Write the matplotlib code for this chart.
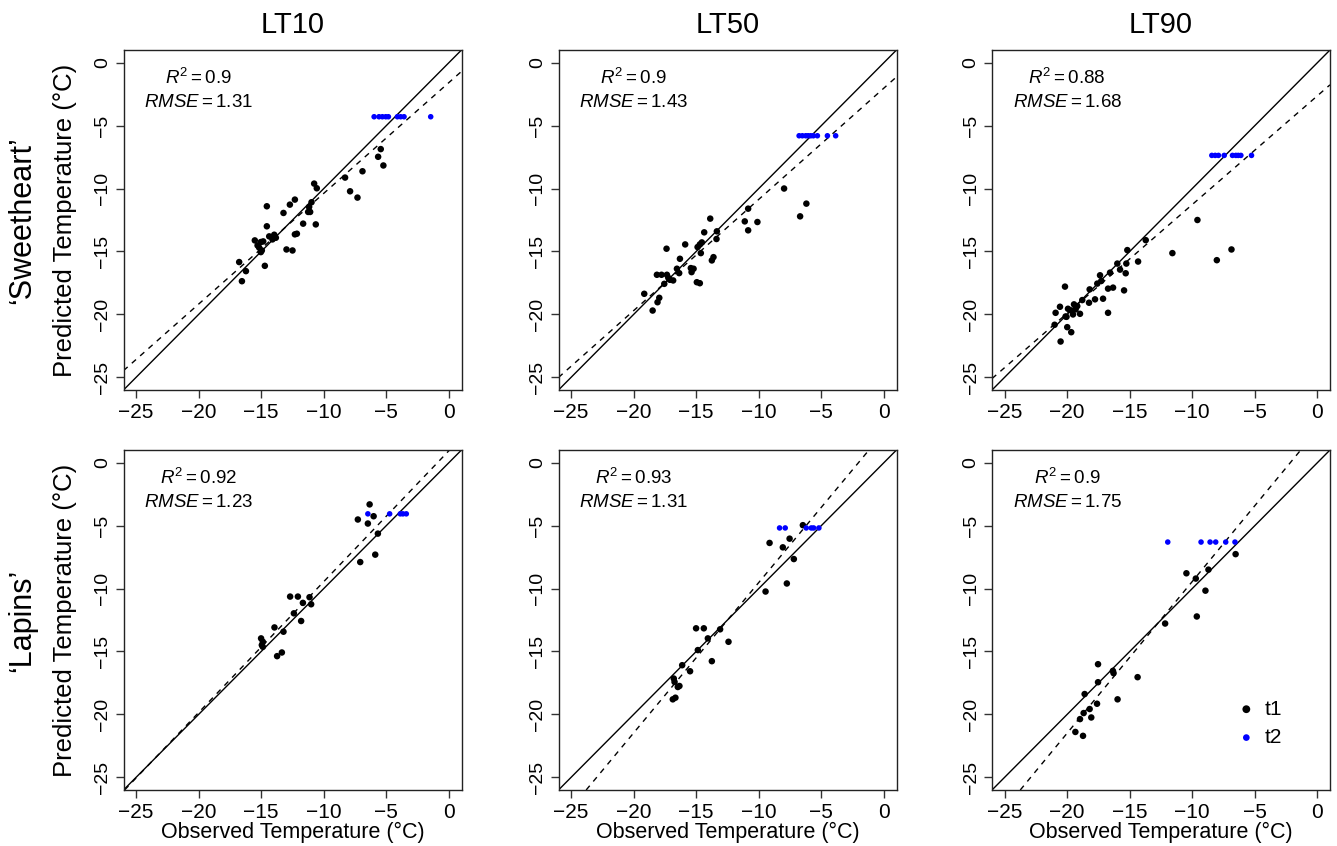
import matplotlib
matplotlib.use('Agg')
import matplotlib.pyplot as plt

plt.rcParams['font.family'] = ['Liberation Sans', 'DejaVu Sans']
plt.rcParams['mathtext.fontset'] = 'custom'
plt.rcParams['mathtext.rm'] = 'Liberation Sans'
plt.rcParams['mathtext.it'] = 'Liberation Sans:italic'

# ---- data (observed x, predicted y) ----
# 'Sweetheart' LT10
sw10_t1_x = [-5.45, -5.66, -5.24, -6.91, -8.30, -7.90, -7.31, -10.77, -10.56, -14.55,
             -12.71, -12.31, -13.22, -10.98, -11.17, -11.25, -11.09, -11.65, -10.64, -14.55,
             -12.15, -12.31, -14.36, -13.96, -13.83, -14.10, -15.51, -15.03, -14.84, -15.29,
             -15.16, -14.95, -15.03, -12.98, -12.50, -16.76, -16.22, -14.71, -16.54]
sw10_t1_y = [-6.87, -7.48, -8.17, -8.63, -9.13, -10.22, -10.72, -9.61, -9.98, -11.41,
             -11.28, -10.88, -11.94, -11.09, -11.46, -11.86, -11.86, -12.79, -12.85, -13.00,
             -13.59, -13.64, -13.80, -13.67, -13.91, -14.04, -14.12, -14.25, -14.20, -14.52,
             -14.70, -14.92, -15.05, -14.84, -14.92, -15.84, -16.56, -16.14, -17.36]
sw10_t2_x = [-5.98, -5.59, -5.32, -5.05, -4.84, -4.12, -3.86, -3.59, -1.46]
sw10_t2_y = [-4.3, -4.3, -4.3, -4.3, -4.3, -4.3, -4.3, -4.3, -4.3]

# 'Sweetheart' LT50
sw50_t1_x = [-7.98, -6.20, -6.70, -10.85, -11.12, -10.11, -10.85, -13.88, -14.36, -13.35,
             -13.38, -14.55, -14.71, -14.89, -14.63, -15.88, -17.37, -13.62, -13.75, -16.30,
             -16.54, -16.36, -15.43, -15.21, -15.37, -18.14, -17.77, -17.34, -17.23, -17.10,
             -16.84, -17.55, -14.95, -14.71, -19.15, -17.95, -18.09, -18.48]
sw50_t1_y = [-10.00, -11.20, -12.21, -11.60, -12.61, -12.66, -13.32, -12.39, -13.48, -13.40,
             -14.01, -14.28, -14.44, -14.65, -15.13, -14.44, -14.78, -15.45, -15.71, -15.58,
             -16.37, -16.72, -16.32, -16.37, -16.64, -16.85, -16.85, -16.85, -17.09, -17.25,
             -17.30, -17.57, -17.44, -17.52, -18.36, -18.68, -19.03, -19.69]
sw50_t2_x = [-6.78, -6.52, -6.25, -6.06, -5.85, -5.64, -5.32, -4.52, -3.86]
sw50_t2_y = [-5.81, -5.81, -5.81, -5.81, -5.81, -5.81, -5.81, -5.81, -5.81]

# 'Sweetheart' LT90
sw90_t1_x = [-9.59, -13.72, -11.59, -6.87, -8.04, -15.19, -14.33, -15.27, -15.99, -15.77,
             -15.32, -16.57, -17.37, -17.27, -17.59, -16.73, -16.33, -15.45, -18.20, -20.17,
             -18.79, -18.25, -17.77, -17.13, -16.73, -19.45, -19.19, -19.32, -19.67, -18.97,
             -19.53, -19.93, -20.12, -20.57, -20.92, -21.00, -19.99, -19.67, -20.52, -20.05]
sw90_t1_y = [-12.50, -14.10, -15.13, -14.84, -15.69, -14.89, -15.80, -15.96, -15.96, -16.44,
             -16.73, -16.68, -16.89, -17.34, -17.55, -17.95, -17.87, -18.09, -18.01, -17.79,
             -18.86, -19.07, -18.80, -18.75, -19.87, -19.20, -19.34, -19.60, -19.68, -19.95,
             -20.00, -19.55, -20.16, -19.39, -19.87, -20.82, -21.01, -21.41, -22.15, -20.19]
sw90_t2_x = [-8.44, -8.17, -7.91, -7.45, -6.79, -6.52, -6.33, -6.12, -5.27]
sw90_t2_y = [-7.37, -7.37, -7.37, -7.37, -7.37, -7.37, -7.37, -7.37, -7.37]

# 'Lapins' LT10
la10_t1_x = [-6.34, -6.02, -7.28, -6.48, -5.68, -5.89, -7.09, -12.69, -12.07, -11.14,
             -11.67, -11.01, -12.39, -11.81, -13.94, -13.22, -15.01, -14.87, -14.95, -14.87,
             -13.35, -13.73]
la10_t1_y = [-3.32, -4.26, -4.52, -4.84, -5.64, -7.31, -7.90, -10.64, -10.64, -10.69,
             -11.14, -11.25, -11.97, -12.58, -13.09, -13.43, -13.96, -14.23, -14.49, -14.63,
             -15.08, -15.37]
la10_t2_x = [-6.48, -4.74, -3.89, -3.68, -3.41]
la10_t2_y = [-4.07, -4.07, -4.07, -4.07, -4.07]

# 'Lapins' LT50
la50_t1_x = [-6.48, -9.14, -7.54, -8.08, -7.20, -7.76, -9.46, -15.01, -14.39, -13.09,
             -14.07, -12.42, -14.87, -13.75, -16.12, -15.49, -16.79, -16.73, -16.47, -16.34,
             -16.66, -16.87]
la50_t1_y = [-4.97, -6.38, -6.04, -6.73, -7.66, -9.60, -10.24, -13.16, -13.16, -13.24,
             -13.96, -14.23, -14.89, -15.77, -16.09, -16.57, -17.15, -17.42, -17.82, -17.74,
             -18.67, -18.80]
la50_t2_x = [-8.34, -7.89, -6.21, -5.81, -5.62, -5.20]
la50_t2_y = [-5.19, -5.19, -5.19, -5.19, -5.19, -5.19]

# 'Lapins' LT90
la90_t1_x = [-6.54, -8.71, -10.47, -9.72, -8.95, -9.64, -12.17, -14.37, -17.53, -16.34,
             -16.29, -17.53, -15.97, -18.60, -17.61, -18.20, -18.68, -18.07, -18.97, -19.34,
             -18.73]
la90_t1_y = [-7.27, -8.50, -8.79, -9.21, -10.17, -12.22, -12.78, -17.04, -16.01, -16.54,
             -16.72, -17.44, -18.80, -18.38, -19.15, -19.57, -19.89, -20.24, -20.37, -21.39,
             -21.70]
la90_t2_x = [-11.96, -9.30, -8.58, -8.13, -7.33, -6.59]
la90_t2_y = [-6.31, -6.31, -6.31, -6.31, -6.31, -6.31]

# fitted lines and stats, row by row
fit_slope = [0.88, 0.884, 0.864, 1.04, 1.195, 1.205]
fit_intercept = [-1.58, -2.02, -2.63, 0.95, 2.43, 2.61]
r2_vals = ['0.9', '0.9', '0.88', '0.92', '0.93', '0.9']
rmse_vals = ['1.31', '1.43', '1.68', '1.23', '1.31', '1.75']

col_titles = ['LT10', 'LT50', 'LT90']
row_titles = ['\u2018Sweetheart\u2019', '\u2018Lapins\u2019']
ticks = [-25, -20, -15, -10, -5, 0]
tick_labels = ['\u221225', '\u221220', '\u221215', '\u221210', '\u22125', '0']

panels = [
    (sw10_t1_x, sw10_t1_y, sw10_t2_x, sw10_t2_y),
    (sw50_t1_x, sw50_t1_y, sw50_t2_x, sw50_t2_y),
    (sw90_t1_x, sw90_t1_y, sw90_t2_x, sw90_t2_y),
    (la10_t1_x, la10_t1_y, la10_t2_x, la10_t2_y),
    (la50_t1_x, la50_t1_y, la50_t2_x, la50_t2_y),
    (la90_t1_x, la90_t1_y, la90_t2_x, la90_t2_y),
]

W, H = 1337, 846
fig = plt.figure(figsize=(W / 100, H / 100), dpi=100)

col_left = [123.5, 558.5, 992]
row_top = [50, 450]
pw, ph = 338, 340

for i, (x1, y1, x2, y2) in enumerate(panels):
    r, c = divmod(i, 3)
    ax = fig.add_axes([col_left[c] / W, 1 - (row_top[r] + ph) / H, pw / W, ph / H])
    ax.axline((0, 0), slope=1, color='black', lw=1)
    ax.axline((0, fit_intercept[i]), slope=fit_slope[i], color='black', lw=1, dashes=(4, 4))
    ax.scatter(x1, y1, s=22, color='black', edgecolors='none', zorder=3, label='t1')
    ax.scatter(x2, y2, s=16, color='#0000ff', edgecolors='none', zorder=3, label='t2')
    ax.set_xlim(-26, 1)
    ax.set_ylim(-26, 1)
    ax.set_xticks(ticks)
    ax.set_xticklabels(tick_labels, fontsize=15)
    ax.set_yticks(ticks)
    ax.set_yticklabels(tick_labels, fontsize=14, rotation=90, va='center')
    ax.tick_params(direction='out', length=6, width=1, color='#333333', pad=3)
    for sp in ax.spines.values():
        sp.set_color('#222222')
        sp.set_linewidth(1)
    ax.text(-20, -1.22, rf'$R^2 = {r2_vals[i]}$', ha='center', va='center', fontsize=13.5)
    ax.text(-20, -3.13, rf'$RMSE = {rmse_vals[i]}$', ha='center', va='center', fontsize=13.5)
    if i == 5:
        ax.legend(loc='center left', bbox_to_anchor=(0.66, 0.196), frameon=False,
                  fontsize=15, handletextpad=0.3, labelspacing=0.45, markerscale=1.2,
                  handlelength=1.2)

# titles and labels
for c in range(3):
    cx = (col_left[c] + pw / 2) / W
    fig.text(cx, 1 - 25 / H, col_titles[c], ha='center', va='center', fontsize=21)
    fig.text(cx, 1 - 832 / H, 'Observed Temperature (\u00b0C)', ha='center', va='center', fontsize=15.5)
for r in range(2):
    cy = 1 - (row_top[r] + ph / 2) / H
    fig.text(22 / W, cy, row_titles[r], rotation=90, ha='center', va='center', fontsize=22)
    fig.text(65 / W, cy, 'Predicted Temperature (\u00b0C)', rotation=90, ha='center',
             va='center', fontsize=18.5)

fig.savefig('out.png', dpi=100)
